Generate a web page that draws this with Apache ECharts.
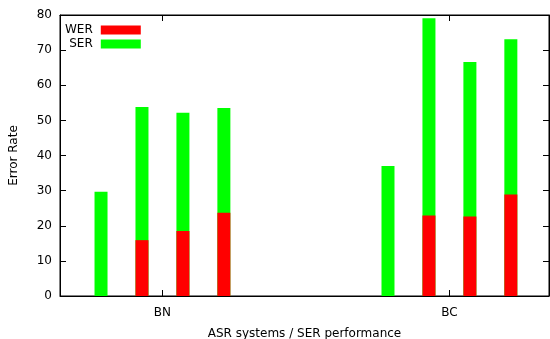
<!DOCTYPE html>
<html><head><meta charset="utf-8">
<script src="https://cdn.jsdelivr.net/npm/echarts@6/dist/echarts.min.js"></script>
<style>html,body{margin:0;padding:0;background:#fff}#c{width:550px;height:339px}</style>
</head><body><div id="c"></div>
<script>
// Data
const categories = ['BN', 'BC'];
const seriesNames = ['WER', 'SER'];
// one row per ASR system, values for [BN, BC]
const serValues = [
  [29.7, 37.0],
  [53.8, 79.1],
  [52.2, 66.6],
  [53.5, 73.1]
];
const werValues = [
  [0, 0],
  [15.9, 22.9],
  [18.5, 22.6],
  [23.7, 28.9]
];
const yTickMin = 0, yTickMax = 80, yTickStep = 10;
const xTickValues = [0, 1];

const FONT = 'DejaVu Sans';
const BLACK = '#000';
const catIdx = categories.map((c, j) => j);

function barSeries(name, values, axisIdx, color, z) {
  return values.map(row => ({
    type: 'bar', name: name, xAxisIndex: axisIdx, yAxisIndex: 0,
    data: catIdx.map(j => [j, row[j]]),
    barWidth: 13, barGap: '215%', z: z,
    itemStyle: { color: color },
    emphasis: { disabled: true }, animation: false
  }));
}

const xBase = {
  type: 'value', min: -0.357, max: 1.347,
  axisLine: { show: true, onZero: false, lineStyle: { color: BLACK, width: 1 } },
  axisTick: { show: true, inside: true, length: 6, customValues: xTickValues, lineStyle: { color: BLACK } },
  splitLine: { show: false }
};
const yBase = {
  type: 'value', min: yTickMin, max: yTickMax, interval: yTickStep,
  axisLine: { show: true, onZero: false, lineStyle: { color: BLACK, width: 1 } },
  axisTick: { show: true, inside: true, length: 6, lineStyle: { color: BLACK } },
  splitLine: { show: false }
};

const chart = echarts.init(document.getElementById('c'), null, { renderer: 'canvas' });
chart.setOption({
  animation: false,
  textStyle: { fontFamily: FONT },
  grid: { left: 60, right: 1, top: 15, bottom: 43, outerBoundsMode: 'none', containLabel: false,
          show: true, borderColor: BLACK, borderWidth: 1, backgroundColor: 'transparent' },
  legend: {
    data: seriesNames, orient: 'vertical', align: 'right', left: 60, top: 19,
    itemWidth: 40, itemHeight: 9, itemGap: 2, icon: 'rect',
    textStyle: { fontFamily: FONT, fontSize: 12, color: BLACK, padding: [0, 3, 0, 0] }
  },
  xAxis: [
    Object.assign({}, xBase, {
      position: 'bottom',
      axisLabel: { show: true, customValues: xTickValues, formatter: v => categories[Math.round(v)], margin: 11, fontFamily: FONT, fontSize: 12, color: BLACK },
      name: 'ASR systems / SER performance', nameLocation: 'middle', nameGap: 32,
      nameTextStyle: { fontFamily: FONT, fontSize: 12, color: BLACK }
    }),
    Object.assign({}, xBase, {
      position: 'top',
      axisLabel: { show: false }
    })
  ],
  yAxis: [
    Object.assign({}, yBase, {
      position: 'left',
      axisLabel: { margin: 8, fontFamily: FONT, fontSize: 12, color: BLACK },
      name: 'Error Rate', nameLocation: 'middle', nameGap: 40,
      nameTextStyle: { fontFamily: FONT, fontSize: 12, color: BLACK }
    }),
    Object.assign({}, yBase, {
      position: 'right',
      axisLabel: { show: false }
    })
  ],
  series: [].concat(
    barSeries('SER', serValues, 0, '#00ff00', 2),
    barSeries('WER', werValues, 1, '#ff0000', 3)
  )
});
</script>
</body></html>
